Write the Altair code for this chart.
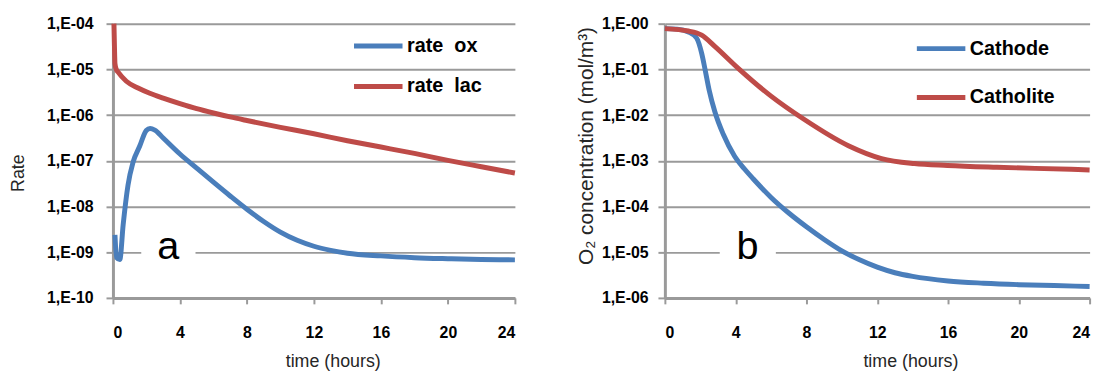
import altair as alt
import pandas as pd

FONT = "Liberation Sans"
BLUE = "#4A7EBB"
RED = "#BE4B48"
GRID = "#9a9a9a"

# ---------------- panel a : rates ----------------
x_ticks = [0, 4, 8, 12, 16, 20, 24]
a_y_ticks = [1e-4, 1e-5, 1e-6, 1e-7, 1e-8, 1e-9, 1e-10]
a_names = ["rate\u00a0 ox", "rate\u00a0 lac"]

ox_t = [0.12, 0.22, 0.41, 0.61, 0.9, 1.2, 1.6, 1.99, 2.22, 2.5, 3.0, 4.0, 5.0, 6.0,
        7.0, 8.0, 9.0, 10.0, 11.0, 12.0, 13.0, 14.0, 16.0, 18.0, 20.0, 22.0, 24.0]
ox_v = [2.4e-9, 7.6e-10, 6.9e-10, 4.0e-9, 2.95e-8, 9.3e-8, 2.1e-7, 4.6e-7, 5.1e-7,
        4.7e-7, 3.16e-7, 1.41e-7, 6.9e-8, 3.4e-8, 1.7e-8, 8.7e-9, 4.7e-9, 2.75e-9,
        1.82e-9, 1.35e-9, 1.1e-9, 9.5e-10, 8.3e-10, 7.6e-10, 7.2e-10, 6.9e-10, 6.8e-10]

lac_t = [0.06, 0.09, 0.12, 0.2, 0.31, 0.8, 1.5, 2.2, 3.0, 4.0, 5.0, 6.0, 7.0, 8.0,
         10.0, 12.0, 14.0, 16.0, 18.0, 20.0, 22.0, 24.0]
lac_v = [1.0e-4, 3.2e-5, 1.35e-5, 1.0e-5, 8.7e-6, 5.5e-6, 3.9e-6, 3.0e-6, 2.35e-6,
         1.78e-6, 1.38e-6, 1.11e-6, 9.1e-7, 7.6e-7, 5.4e-7, 3.9e-7, 2.75e-7, 2.0e-7,
         1.45e-7, 1.02e-7, 7.4e-8, 5.4e-8]

# ---------------- panel b : O2 concentration ----------------
b_y_ticks = [1e0, 1e-1, 1e-2, 1e-3, 1e-4, 1e-5, 1e-6]
b_names = ["Cathode", "Catholite"]

cathode_t = [0.0, 0.7, 1.33, 1.8, 2.08, 2.27, 2.5, 2.82, 3.3, 3.94, 4.5, 5.0, 6.0,
             7.0, 8.0, 9.0, 10.0, 11.0, 12.0, 13.0, 14.0, 16.0, 18.0, 20.0, 22.0, 24.0]
cathode_v = [0.78, 0.76, 0.66, 0.48, 0.224, 0.1, 0.0355, 0.012, 3.8e-3, 1.26e-3,
             6.6e-4, 4.0e-4, 1.58e-4, 7.2e-5, 3.6e-5, 1.9e-5, 1.07e-5, 6.8e-6,
             4.7e-6, 3.55e-6, 2.95e-6, 2.35e-6, 2.1e-6, 1.95e-6, 1.86e-6, 1.78e-6]

catholite_t = [0.0, 1.33, 2.08, 2.82, 4.13, 6.0, 7.86, 10.37, 12.24, 14.1, 15.97,
               18.76, 22.96, 24.0]
catholite_v = [0.78, 0.69, 0.56, 0.32, 0.107, 0.026, 0.0081, 0.00214, 0.00112,
               8.7e-4, 7.9e-4, 7.2e-4, 6.5e-4, 6.3e-4]

# panel letters and the white gap they sit in
a_letter = {"t": [3.3], "v": [1e-9], "label": ["a"]}
a_gap = {"t": [1.69], "t2": [4.93], "v": [1e-9]}
b_letter = {"t": [4.67], "v": [1e-5], "label": ["b"]}
b_gap = {"t": [3.1], "t2": [6.27], "v": [1e-5]}

LABEL_EXPR = "'1,E-' + format(abs(round(log(datum.value) / LN10)), '02d')"


def series_df(names, ts, vs):
    rows = []
    for n, t_list, v_list in zip(names, ts, vs):
        for t, v in zip(t_list, v_list):
            rows.append({"series": n, "t": t, "v": v})
    return pd.DataFrame(rows)


def panel(df, names, ydom, yvals, ytitle, ytsize, ytx, yty, ylabpad, xtx, legx, legy,
          rowpad, letter, gap, width):
    xenc = alt.X(
        "t:Q",
        scale=alt.Scale(domain=[0, 24], nice=False, zero=False),
        axis=alt.Axis(values=x_ticks, title="time (hours)", grid=False,
                      tickSize=6, labelPadding=21, titleX=xtx, titleY=64,
                      titleBaseline="middle", titleAlign="center"),
    )
    yenc = alt.Y(
        "v:Q",
        scale=alt.Scale(type="log", domain=ydom, nice=False),
        axis=alt.Axis(values=yvals, labelExpr=LABEL_EXPR, title=ytitle,
                      grid=True, tickSize=7, labelPadding=ylabpad,
                      titleFontSize=ytsize,
                      titleX=ytx, titleY=yty, titleAngle=-90,
                      titleBaseline="middle", titleAlign="center"),
    )
    lines = alt.Chart(df).mark_line(strokeWidth=5, interpolate="monotone").encode(
        x=xenc,
        y=yenc,
        color=alt.Color(
            "series:N",
            scale=alt.Scale(domain=names, range=[BLUE, RED]),
            sort=names,
            legend=alt.Legend(
                orient="none", legendX=legx, legendY=legy, title=None,
                symbolType="stroke", symbolSize=2400, symbolStrokeWidth=5,
                labelFont=FONT, labelFontSize=20, labelFontWeight="bold",
                labelColor="#000000", labelOffset=2, rowPadding=rowpad,
                padding=0,
            ),
        ),
    )
    gap_rule = alt.Chart(pd.DataFrame(gap)).mark_rule(color="white", strokeWidth=4).encode(
        x="t:Q", x2="t2:Q", y="v:Q"
    )
    text = alt.Chart(pd.DataFrame(letter)).mark_text(
        font=FONT, fontSize=40, baseline="alphabetic", align="center", dy=7, color="#000000"
    ).encode(x="t:Q", y="v:Q", text="label:N")
    return alt.layer(lines, gap_rule, text).properties(width=width, height=277)


df_a = series_df(a_names, [ox_t, lac_t], [ox_v, lac_v])
df_b = series_df(b_names, [cathode_t, catholite_t], [cathode_v, catholite_v])

left = panel(df_a, a_names, [1e-10, 1e-4], a_y_ticks, "Rate", 18, -95, 150.5, 13,
             222, 241, -4.5, 4, a_letter, a_gap, 406)
right = panel(df_b, b_names, [1e-6, 1e0], b_y_ticks, "O\u2082 concentration (mol/m\u00b3)", 21,
              -79, 123, 10, 248, 252, -1.8, 12.3, b_letter, b_gap, 429)

chart = alt.hconcat(left, right, spacing=151.5, bounds="flush").resolve_scale(
    color="independent", x="independent", y="independent"
).properties(
    padding={"left": 2, "top": 4, "right": 0, "bottom": 0}
).configure_view(stroke=None).configure_axis(
    domainColor=GRID, domainWidth=3, tickColor=GRID, tickWidth=2,
    gridColor=GRID, gridWidth=2, gridOpacity=1,
    labelFont=FONT, labelFontSize=16, labelFontWeight="bold", labelColor="#000000",
    titleFont=FONT, titleFontSize=18, titleFontWeight="normal", titleColor="#262626",
)

chart.save("out.html", embed_options={"renderer": "svg", "actions": False})
